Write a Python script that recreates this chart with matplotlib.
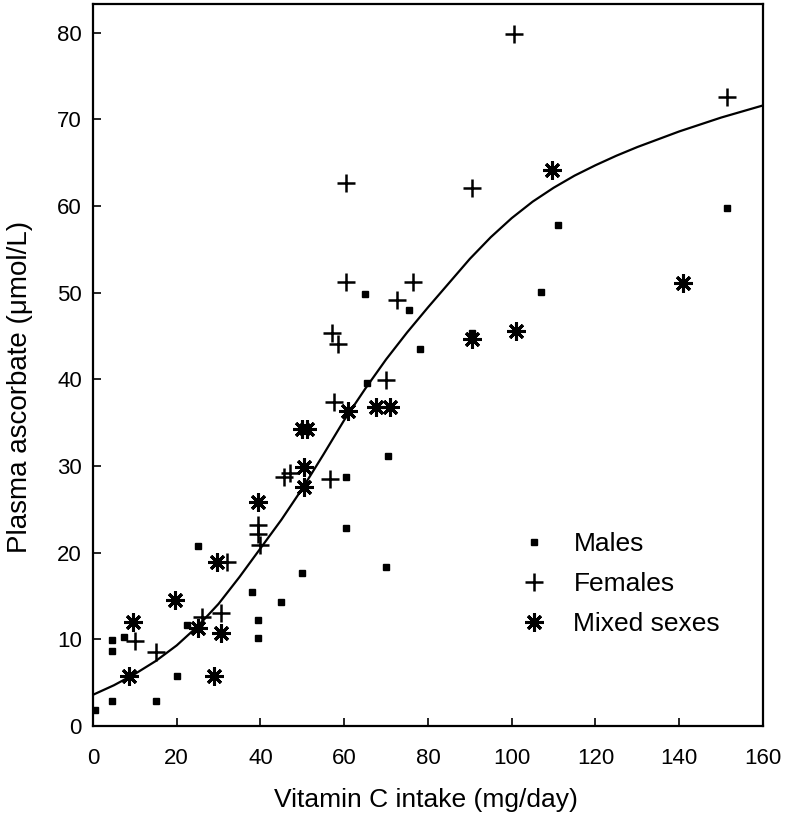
import numpy as np
import matplotlib
matplotlib.use('Agg')
import matplotlib.pyplot as plt

plt.rcParams['font.family'] = ['Liberation Sans', 'DejaVu Sans']

# Males (dots)
males_x = [0.5, 4.5, 4.5, 4.5, 7.5, 15, 20, 22.5, 25, 38, 39.5, 39.5, 45, 50, 60.5, 60.5,
           65, 65.5, 70, 70.5, 75.5, 78, 90.5, 107, 111, 151.5]
males_y = [1.8, 2.9, 8.6, 9.9, 10.3, 2.9, 5.8, 11.6, 20.8, 15.5, 12.2, 10.2, 14.3, 17.7, 22.9, 28.7,
           49.8, 39.6, 18.3, 31.2, 48.0, 43.5, 45.3, 50.1, 57.8, 59.8]

# Females (plus)
females_x = [10, 15, 26, 30.5, 32, 39.5, 39.5, 40, 45.5, 47, 56.5, 57.5, 57, 58.5, 60.5, 60.5,
             70, 72.5, 76.5, 90.5, 100.5, 151.5]
females_y = [9.8, 8.5, 12.6, 13.0, 18.9, 23.2, 22.2, 20.9, 28.7, 29.2, 28.5, 37.4, 45.4, 44.1, 51.2, 62.7,
             39.9, 49.1, 51.2, 62.1, 79.8, 72.6]

# Mixed sexes (asterisk)
mixed_x = [8.5, 9.5, 19.5, 25, 29, 29.5, 30.5, 39.5, 50, 51, 50.5, 50.5, 61, 67.5, 71,
           90.5, 101, 109.5, 141]
mixed_y = [5.8, 12.0, 14.5, 11.3, 5.8, 18.9, 10.7, 25.8, 34.3, 34.3, 29.9, 27.6, 36.3, 36.8, 36.8,
           44.6, 45.6, 64.2, 51.1]

# fitted curve
curve_x = [0, 5, 10, 15, 20, 25, 30, 35, 40, 45, 50, 55, 60, 65, 70, 75, 80,
           85, 90, 95, 100, 105, 110, 115, 120, 125, 130, 135, 140, 145, 150, 155, 160]
curve_y = [3.6, 4.7, 6.0, 7.5, 9.3, 11.5, 14.1, 17.2, 20.5, 23.8, 27.4, 31.3, 35.3, 38.9, 42.3, 45.4, 48.3,
           51.1, 53.9, 56.4, 58.6, 60.5, 62.1, 63.5, 64.7, 65.8, 66.8, 67.7, 68.6, 69.4, 70.2, 70.9, 71.6]

fig = plt.figure(figsize=(7.9, 8.22), dpi=100)
ax = fig.add_axes([0.1177, 0.1168, 0.8481, 0.8783])

ax.plot(curve_x, curve_y, color='black', lw=1.6, zorder=1)
ax.plot(males_x, males_y, ls='none', marker='s', ms=4, color='black', label='Males')
ax.plot(females_x, females_y, ls='none', marker='+', ms=13, mew=1.8, color='black', label='Females')
ax.plot(mixed_x, mixed_y, ls='none', marker=(8, 2, 0), ms=13, mew=2.2, color='black',
        label='Mixed sexes')

ax.set_xlim(0, 160)
ax.set_ylim(0, 83.3)
ax.set_xticks(range(0, 161, 20))
ax.set_yticks(range(0, 81, 10))
ax.tick_params(direction='in', length=6, width=1.2, labelsize=16)
ax.tick_params(axis='x', pad=16)
ax.tick_params(axis='y', pad=8)
for s in ax.spines.values():
    s.set_linewidth(1.6)

ax.set_xlabel('Vitamin C intake (mg/day)', fontsize=19)
ax.set_ylabel('Plasma ascorbate (\u03bcmol/L)', fontsize=20)
ax.xaxis.label.set_va('center')
ax.yaxis.label.set_va('center')
ax.xaxis.set_label_coords(0.497, -0.102)
ax.yaxis.set_label_coords(-0.109, 0.47)

ax.legend(loc='lower left', bbox_to_anchor=(0.593, 0.092), frameon=False, fontsize=19,
          handletextpad=0.75, labelspacing=0.6, numpoints=1, handlelength=1.5)

fig.savefig('out.png', dpi=100)
